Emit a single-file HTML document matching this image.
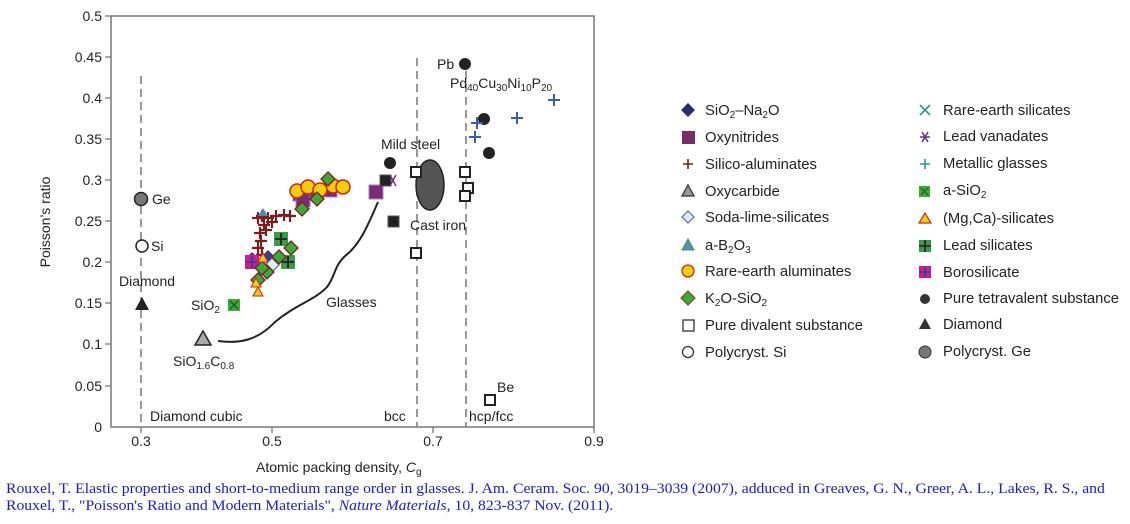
<!DOCTYPE html>
<html><head><meta charset="utf-8"><style>
body{margin:0;background:#fff;width:1130px;height:524px;overflow:hidden}
svg text{font-family:"Liberation Sans",sans-serif;fill:#222}
.ft{position:absolute;left:6px;top:481px;font-family:"Liberation Serif",serif;font-size:15.7px;color:#1a1ad6;line-height:18px;width:1125px;white-space:nowrap;transform-origin:0 0;transform:scaleY(0.94)}
</style></head><body>
<svg width="1130" height="524" viewBox="0 0 1130 524" style="position:absolute;left:0;top:0">
<defs>
<g id="cr"><path d="M-6 0H6M0-6V6" stroke="#7a1e1e" stroke-width="2.2"/></g>
<g id="yc"><circle r="7" fill="#f0d000" stroke="#d02020" stroke-width="1.5"/></g>
<g id="ps"><rect x="-7" y="-7" width="14" height="14" fill="#7d2a7a" stroke="#b080b0"/></g>
<g id="gd"><path d="M0-7L7 0L0 7L-7 0Z" fill="#3aa935" stroke="#7a2020" stroke-width="1.3"/></g>
<g id="gs"><rect x="-7" y="-7" width="14" height="14" fill="#3b9a4a"/><path d="M-6 0H6M0-6V6" stroke="#222" stroke-width="1.8"/></g>
<g id="os"><rect x="-5" y="-5" width="10" height="10" fill="#fff" stroke="#222" stroke-width="2"/></g>
<g id="bc"><circle r="6" fill="#222"/></g>
<g id="bp"><path d="M-6 0H6M0-6V6" stroke="#3a5ea8" stroke-width="2"/></g>
</defs>
<rect x="111" y="16" width="483" height="411" fill="none" stroke="#777" stroke-width="1.5"/>
<g stroke="#777" stroke-width="1.3">
<path d="M105 16H111M105 57H111M105 98H111M105 139H111M105 180H111M105 221H111M105 262H111M105 303H111M105 344H111M105 386H111"/>
<path d="M141 427V433M272 427V433M433 427V433M594 427V433"/>
</g>
<g font-size="14" text-anchor="end">
<text x="102" y="21">0.5</text><text x="102" y="62">0.45</text><text x="102" y="103">0.4</text><text x="102" y="144">0.35</text><text x="102" y="185">0.3</text><text x="102" y="226">0.25</text><text x="102" y="267">0.2</text><text x="102" y="308">0.15</text><text x="102" y="349">0.1</text><text x="102" y="391">0.05</text><text x="102" y="432">0</text>
</g>
<g font-size="14" text-anchor="middle">
<text x="141" y="446">0.3</text><text x="272" y="446">0.5</text><text x="433" y="446">0.7</text><text x="594" y="446">0.9</text>
</g>
<text x="256" y="472" font-size="14">Atomic packing density, <tspan font-style="italic">C</tspan><tspan font-size="10" dy="3">g</tspan></text>
<text transform="translate(50,222) rotate(-90)" font-size="14" text-anchor="middle">Poisson’s ratio</text>
<g stroke="#777" stroke-width="1.5" stroke-dasharray="8,5" fill="none">
<path d="M141 76V427"/><path d="M417 58V427"/><path d="M466 58V427"/>
</g>
<g font-size="14">
<text x="150" y="421">Diamond cubic</text><text x="384" y="421">bcc</text><text x="469" y="421">hcp/fcc</text>
</g>
<circle cx="141" cy="199" r="6.5" fill="#777" stroke="#222" stroke-width="1.5"/><text x="152" y="204" font-size="14">Ge</text>
<circle cx="142" cy="246" r="6" fill="#fff" stroke="#222" stroke-width="1.5"/><text x="151" y="251" font-size="14">Si</text>
<text x="119" y="286" font-size="14">Diamond</text>
<path d="M142 297L149 310H135Z" fill="#222"/>
<text x="191" y="310" font-size="14">SiO<tspan font-size="10" dy="3">2</tspan></text>
<rect x="228" y="299" width="12" height="12" fill="#3aa935"/><path d="M230 301L238 309M238 301L230 309" stroke="#1a5a1a" stroke-width="1.3"/>
<path d="M203 331L211 345H195Z" fill="#aaa" stroke="#222" stroke-width="1.5"/>
<text x="173" y="366" font-size="14">SiO<tspan font-size="10" dy="3">1.6</tspan><tspan dy="-3">C</tspan><tspan font-size="10" dy="3">0.8</tspan></text>
<path d="M218 341C240 344 258 340 275 322C295 305 315 300 327 287C336 275 333 268 345 256C360 245 368 225 378 202" fill="none" stroke="#222" stroke-width="2"/>
<text x="326" y="307" font-size="14">Glasses</text>
<use href="#ps" x="300" y="194"/><use href="#ps" x="313" y="193"/><use href="#ps" x="330" y="190"/><use href="#ps" x="303" y="200"/>
<use href="#yc" x="297" y="191"/><use href="#yc" x="308" y="187"/><use href="#yc" x="333" y="186"/><use href="#yc" x="343" y="187"/><use href="#yc" x="320" y="190"/>
<use href="#gd" x="328" y="179"/><use href="#gd" x="317" y="199"/><use href="#gd" x="302" y="209"/>
<use href="#cr" x="262" y="216"/><use href="#cr" x="268" y="218"/><use href="#cr" x="276" y="216"/><use href="#cr" x="284" y="215"/><use href="#cr" x="290" y="216"/><use href="#cr" x="258" y="218"/><use href="#cr" x="264" y="225"/><use href="#cr" x="272" y="222"/><use href="#cr" x="260" y="233"/><use href="#cr" x="266" y="230"/><use href="#cr" x="261" y="241"/><use href="#cr" x="258" y="248"/><use href="#cr" x="262" y="255"/>
<path d="M263 208L268 216H258Z" fill="#4a8abf"/>
<path d="M252 252L259 259L252 266L245 259Z" fill="#3a3a9a"/><path d="M268 250L275 257L268 264L261 257Z" fill="#3a3a9a"/>
<path d="M272 258L279 265L272 272L265 265Z" fill="#d8f0f0" stroke="#5050a0"/>
<use href="#gs" x="281" y="239"/><use href="#gs" x="288" y="262"/>
<rect x="245" y="255" width="14" height="14" fill="#c8208a"/><path d="M246 262H258M252 256V268" stroke="#3a3a9a" stroke-width="1.8"/>
<use href="#gd" x="291" y="248"/><use href="#gd" x="279" y="257"/><use href="#gd" x="267" y="272"/><use href="#gd" x="258" y="280"/><use href="#gd" x="262" y="268"/>
<path d="M263 253L268 262H258Z" fill="#f0d000" stroke="#d02020"/><path d="M258 287L263 296H253Z" fill="#f0d000" stroke="#d02020"/><path d="M256 278L261 287H251Z" fill="#f0d000" stroke="#d02020"/>
<use href="#ps" x="376" y="192"/>
<rect x="380" y="175" width="11" height="11" fill="#222" stroke="#555"/><path d="M390 175L396 186M390 186L396 175" stroke="#7d2a7a" stroke-width="1.5"/>
<use href="#bc" x="390" y="163"/>
<text x="381" y="149" font-size="14">Mild steel</text>
<rect x="388" y="216" width="11" height="11" fill="#222" stroke="#555"/>
<text x="410" y="230" font-size="14">Cast iron</text>
<ellipse cx="430" cy="185" rx="14" ry="25" fill="#555" stroke="#222" stroke-width="1.5"/>
<use href="#os" x="416" y="172"/><use href="#os" x="465" y="172"/><use href="#os" x="468" y="188"/><use href="#os" x="465" y="196"/><use href="#os" x="416" y="253"/><use href="#os" x="490" y="400"/>
<text x="497" y="392" font-size="14">Be</text>
<use href="#bc" x="465" y="64"/><text x="437" y="69" font-size="14">Pb</text>
<text x="450" y="88" font-size="14">Pd<tspan font-size="10" dy="3">40</tspan><tspan dy="-3">Cu</tspan><tspan font-size="10" dy="3">30</tspan><tspan dy="-3">Ni</tspan><tspan font-size="10" dy="3">10</tspan><tspan dy="-3">P</tspan><tspan font-size="10" dy="3">20</tspan></text>
<use href="#bc" x="484" y="119"/><use href="#bc" x="489" y="153"/>
<use href="#bp" x="554" y="100"/><use href="#bp" x="517" y="118"/><use href="#bp" x="477" y="123"/><use href="#bp" x="475" y="137"/>
<g font-size="14.8">
<path d="M688 103L695 110L688 117L681 110Z" fill="#2a2a7a"/><text x="705" y="115">SiO<tspan font-size="10" dy="3">2</tspan><tspan dy="-3">–Na</tspan><tspan font-size="10" dy="3">2</tspan><tspan dy="-3">O</tspan></text>
<rect x="682" y="131" width="13" height="13" fill="#7d2a6a"/><text x="705" y="142">Oxynitrides</text>
<path d="M683 164H693M688 159V169" stroke="#7a1e1e" stroke-width="1.6"/><text x="705" y="169">Silico-aluminates</text>
<path d="M688 185L694 196H682Z" fill="#999" stroke="#333" stroke-width="1.3"/><text x="705" y="196">Oxycarbide</text>
<path d="M688 211L694 217L688 223L682 217Z" fill="#d8f0f0" stroke="#5050a0"/><text x="705" y="222">Soda-lime-silicates</text>
<path d="M688 239L694 250H682Z" fill="#5a8ac0" stroke="#3a9a50"/><text x="705" y="250">a-B<tspan font-size="10" dy="3">2</tspan><tspan dy="-3">O</tspan><tspan font-size="10" dy="3">3</tspan></text>
<circle cx="688" cy="271" r="6" fill="#f0d000" stroke="#d02020" stroke-width="1.3"/><text x="705" y="276">Rare-earth aluminates</text>
<path d="M688 291L695 298L688 305L681 298Z" fill="#3aa935" stroke="#7a4a20" stroke-width="1.2"/><text x="705" y="303">K<tspan font-size="10" dy="3">2</tspan><tspan dy="-3">O-SiO</tspan><tspan font-size="10" dy="3">2</tspan></text>
<rect x="683" y="320" width="11" height="11" fill="#fff" stroke="#333" stroke-width="1.3"/><text x="705" y="330">Pure divalent substance</text>
<circle cx="688" cy="352" r="5.5" fill="#fff" stroke="#333" stroke-width="1.3"/><text x="705" y="357">Polycryst. Si</text>
<path d="M920 105L930 115M930 105L920 115" stroke="#2a9a8a" stroke-width="1.6"/><text x="943" y="115">Rare-earth silicates</text>
<path d="M920 137H930M922 132L928 142M928 132L922 142" stroke="#5a3a8a" stroke-width="1.6"/><text x="943" y="141">Lead vanadates</text>
<path d="M920 164H930M925 159V169" stroke="#2a9a8a" stroke-width="1.6"/><text x="943" y="168">Metallic glasses</text>
<rect x="919" y="186" width="11" height="11" fill="#3aa935"/><path d="M921 188L928 195M928 188L921 195" stroke="#1a5a1a"/><text x="943" y="195">a-SiO<tspan font-size="10" dy="3">2</tspan></text>
<path d="M925 213L931 223H919Z" fill="#f0d000" stroke="#d02020" stroke-width="1.2"/><text x="943" y="223">(Mg,Ca)-silicates</text>
<rect x="919" y="240" width="12" height="12" fill="#3b9a4a"/><path d="M919 246H931M925 240V252" stroke="#222" stroke-width="1.6"/><text x="943" y="250">Lead silicates</text>
<rect x="919" y="266" width="12" height="12" fill="#c8208a"/><path d="M919 272H931M925 266V278" stroke="#3a3a9a" stroke-width="1.6"/><text x="943" y="277">Borosilicate</text>
<circle cx="925" cy="299" r="5" fill="#333"/><text x="943" y="303">Pure tetravalent substance</text>
<path d="M925 318L931 329H919Z" fill="#333"/><text x="943" y="329">Diamond</text>
<circle cx="925" cy="352" r="6" fill="#777" stroke="#333"/><text x="943" y="356">Polycryst. Ge</text>
</g>
</svg>
<div class="ft">Rouxel, T. Elastic properties and short-to-medium range order in glasses. J. Am. Ceram. Soc. 90, 3019–3039 (2007), adduced in Greaves, G. N., Greer, A. L., Lakes, R. S., and<br>Rouxel, T., "Poisson's Ratio and Modern Materials", <i>Nature Materials</i>, 10, 823-837 Nov. (2011).</div>
</body></html>
